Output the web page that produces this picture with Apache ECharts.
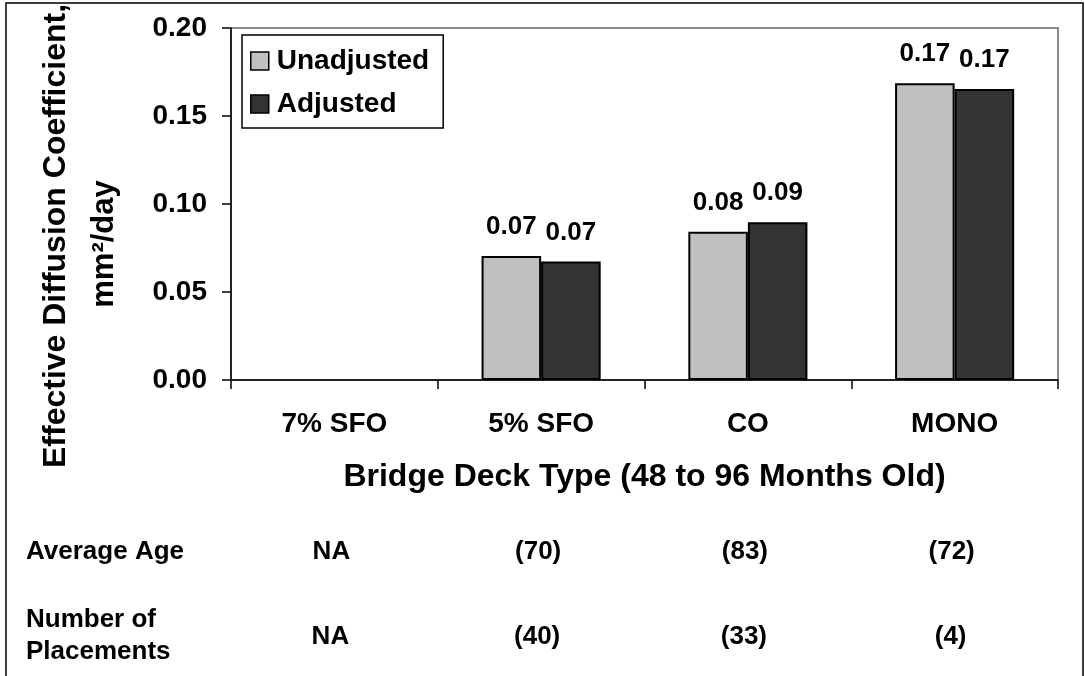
<!DOCTYPE html>
<html>
<head>
<meta charset="utf-8">
<script src="https://cdn.jsdelivr.net/npm/echarts@6/dist/echarts.min.js"></script>
<style>
  html, body { margin: 0; padding: 0; background: #fff; }
  #chart { width: 1085px; height: 676px; }
</style>
</head>
<body>
<div id="chart"></div>
<script>
// ---- Data ----
const categories = ['7% SFO', '5% SFO', 'CO', 'MONO'];
const seriesNames = ['Unadjusted', 'Adjusted'];
const unadjusted = [null, 0.0705, 0.0843, 0.1686];
const adjusted = [null, 0.0674, 0.0896, 0.1653];
const yMin = 0, yMax = 0.20, yInterval = 0.05;
const xAxisTitle = 'Bridge Deck Type (48 to 96 Months Old)';
const yAxisTitleLine1 = 'Effective Diffusion Coefficient,';
const yAxisTitleLine2 = 'mm\u00B2/day';
const rowLabelAge = 'Average Age';
const avgAge = ['NA', '(70)', '(83)', '(72)'];
const rowLabelPlacements = 'Number of\nPlacements';
const placements = ['NA', '(40)', '(33)', '(4)'];

const FONT = '"Liberation Sans", Arial, Helvetica, sans-serif';
const chart = echarts.init(document.getElementById('chart'), null, { renderer: 'canvas' });

const barLabel = {
  show: true,
  position: 'top',
  distance: 16,
  color: '#000',
  fontFamily: FONT,
  fontWeight: 'bold',
  fontSize: 26,
  formatter: p => (p.value == null ? '' : Number(p.value).toFixed(2))
};

chart.setOption({
  animation: false,
  backgroundColor: '#fff',
  textStyle: { fontFamily: FONT },
  grid: {
    left: 231, right: 27, top: 28, bottom: 296,
    show: true, borderColor: '#8c8c8c', borderWidth: 2, backgroundColor: 'transparent'
  },
  legend: {
    data: seriesNames,
    orient: 'vertical',
    left: 242, top: 35,
    padding: [12, 14, 10, 8],
    itemGap: 15,
    itemWidth: 18, itemHeight: 18,
    icon: 'rect',
    borderColor: '#000', borderWidth: 1.5,
    backgroundColor: '#fff',
    itemStyle: { borderColor: '#000', borderWidth: 1.5 },
    textStyle: { fontFamily: FONT, fontWeight: 'bold', fontSize: 28, color: '#000', padding: [0, 0, 0, 3] }
  },
  xAxis: {
    type: 'category',
    data: categories,
    boundaryGap: true,
    axisLine: { show: true, lineStyle: { color: '#000', width: 1.5 } },
    axisTick: { show: true, length: 9, lineStyle: { color: '#000', width: 1.5 } },
    axisLabel: { fontFamily: FONT, fontWeight: 'bold', fontSize: 28, color: '#000', margin: 30 },
    name: xAxisTitle,
    nameLocation: 'middle',
    nameGap: 97,
    nameTextStyle: { fontFamily: FONT, fontWeight: 'bold', fontSize: 32, color: '#000', verticalAlign: 'middle' }
  },
  yAxis: {
    type: 'value',
    min: yMin, max: yMax, interval: yInterval,
    axisLine: { show: true, lineStyle: { color: '#000', width: 1.5 } },
    axisTick: { show: true, length: 9, lineStyle: { color: '#000', width: 1.5 } },
    splitLine: { show: false },
    axisLabel: {
      fontFamily: FONT, fontWeight: 'bold', fontSize: 28, color: '#000', margin: 24,
      formatter: v => v.toFixed(2)
    }
  },
  series: [
    {
      name: seriesNames[0], type: 'bar', data: unadjusted,
      barWidth: '28.8%', barGap: '0%',
      itemStyle: { color: '#c0c0c0', borderColor: '#000', borderWidth: 2 },
      label: barLabel
    },
    {
      name: seriesNames[1], type: 'bar', data: adjusted,
      barWidth: '28.8%', barGap: '0%',
      itemStyle: { color: '#333333', borderColor: '#000', borderWidth: 2 },
      label: barLabel
    }
  ]
});

// Build table rows and y-axis title positioned via the chart's own scales
const graphics = [];
graphics.push({
  type: 'rect', silent: true, z: 100,
  shape: { x: 6, y: 3, width: 1077, height: 700 },
  style: { fill: null, stroke: '#000', lineWidth: 1.5 }
});
graphics.push({
  type: 'text', x: 56, y: 236, rotation: Math.PI / 2,
  style: { text: yAxisTitleLine1, font: 'bold 32px ' + FONT, fill: '#000', align: 'center', verticalAlign: 'middle' }
});
graphics.push({
  type: 'text', x: 104, y: 244, rotation: Math.PI / 2,
  style: { text: yAxisTitleLine2, font: 'bold 31px ' + FONT, fill: '#000', align: 'center', verticalAlign: 'middle' }
});
graphics.push({
  type: 'text', x: 26, y: 552,
  style: { text: rowLabelAge, font: 'bold 26px ' + FONT, fill: '#000', align: 'left', verticalAlign: 'middle' }
});
graphics.push({
  type: 'text', x: 26, y: 636,
  style: { text: rowLabelPlacements, font: 'bold 26px ' + FONT, lineHeight: 32, fill: '#000', align: 'left', verticalAlign: 'middle' }
});
categories.forEach((c, i) => {
  const x = chart.convertToPixel({ xAxisIndex: 0 }, c);
  graphics.push({
    type: 'text', x: x - 3, y: 552,
    style: { text: avgAge[i], font: 'bold 26px ' + FONT, fill: '#000', align: 'center', verticalAlign: 'middle' }
  });
  graphics.push({
    type: 'text', x: x - 4, y: 637,
    style: { text: placements[i], font: 'bold 26px ' + FONT, fill: '#000', align: 'center', verticalAlign: 'middle' }
  });
});
chart.setOption({ graphic: graphics });
</script>
</body>
</html>
